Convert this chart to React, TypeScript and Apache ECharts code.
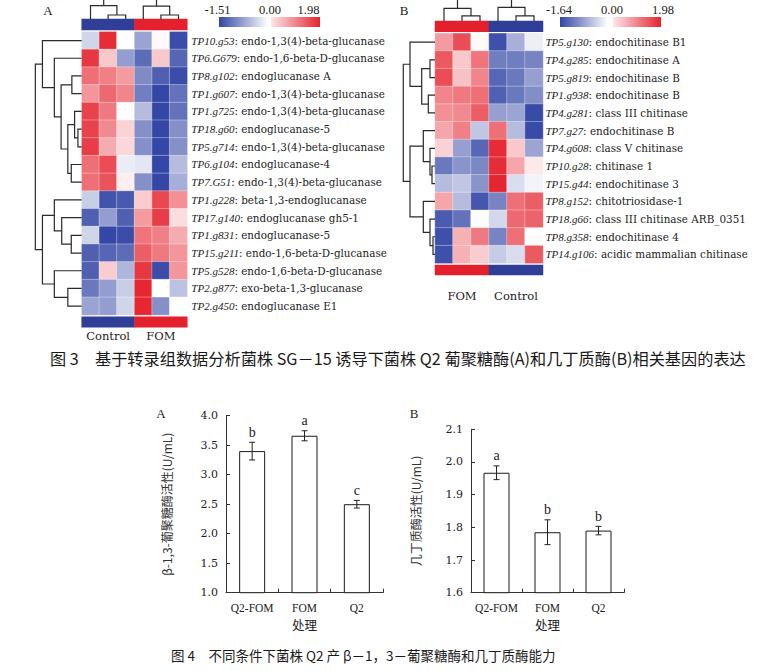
import React, { useEffect, useRef } from "react";
import * as echarts from "echarts";

// ---------------- Fig.3 A : glucanase genes ----------------
const glucGenes = ["TP10.g53", "TP6.G679", "TP8.g102", "TP1.g607", "TP1.g725", "TP18.g60", "TP5.g714", "TP6.g104", "TP7.G51", "TP1.g228", "TP17.g140", "TP1.g831", "TP15.g211", "TP5.g528", "TP2.g877", "TP2.g450"];
const glucDesc = ["endo-1,3(4)-beta-glucanase", "endo-1,6-beta-D-glucanase", "endoglucanase A", "endo-1,3(4)-beta-glucanase", "endo-1,3(4)-beta-glucanase", "endoglucanase-5", "endo-1,3(4)-beta-glucanase", "endoglucanase-4", "endo-1,3(4)-beta-glucanase", "beta-1,3-endoglucanase", "endoglucanase gh5-1", "endoglucanase-5", "endo-1,6-beta-D-glucanase", "endo-1,6-beta-D-glucanase", "exo-beta-1,3-glucanase", "endoglucanase E1"];
const glucColumns = ["Control-1", "Control-2", "Control-3", "FOM-1", "FOM-2", "FOM-3"];
const glucGroups = ["Control", "FOM"];
const glucMin = -1.51;
const glucMax = 1.98;
const glucExpr = [
  [-0.35, 1.9, 0.0, -0.75, 0.05, -1.45],
  [1.8, 0.5, -0.8, -1.2, 0.5, -1.25],
  [1.3, 1.15, 0.9, -0.95, -1.3, -1.45],
  [0.95, 1.35, 1.1, -1.05, -1.5, -1.15],
  [1.7, 1.2, 0.02, -0.55, -1.5, -1.15],
  [1.7, 1.05, 0.4, -0.9, -1.5, -0.9],
  [1.75, 0.75, 0.35, -0.9, -1.5, -0.9],
  [1.3, 1.6, -0.15, -0.2, -1.5, -0.55],
  [1.3, 1.55, 0.15, -0.9, -1.5, -0.65],
  [-0.4, -1.4, -1.35, 0.45, 1.65, 1.0],
  [-1.3, -0.8, -1.3, 0.9, 1.75, 0.3],
  [-0.35, -1.5, -1.45, 1.25, 1.15, 0.75],
  [-1.3, -1.25, -1.2, 1.45, 1.2, 0.95],
  [-1.3, 0.45, -0.6, 1.8, -1.45, 0.95],
  [-1.1, -0.8, -0.4, 1.95, 0.0, -0.5],
  [-0.75, -0.8, -0.35, 1.95, -0.9, 0.0],
];
// linkage: [childA, childB, height]; leaves 0..n-1, merged nodes n, n+1, ...
const glucRowLinkage = [
  [5, 6, 0.79], [4, 16, 1.49], [7, 8, 2.19], [17, 18, 2.91], [2, 3, 2.06], [20, 19, 4.32], [1, 21, 5.74], [0, 22, 8.23],
  [11, 12, 2.19], [10, 24, 4.19], [9, 25, 5.74], [14, 15, 2.91], [13, 27, 5.74], [26, 28, 8.23], [23, 29, 9.72],
];
const glucColLinkage = [[1, 2, 2.1], [0, 6, 7.0], [4, 5, 2.1], [3, 8, 6.8], [7, 9, 13]];

// ---------------- Fig.3 B : chitinase genes ----------------
const chitGenes = ["TP5.g130", "TP4.g285", "TP5.g819", "TP1.g938", "TP4.g281", "TP7.g27", "TP4.g608", "TP10.g28", "TP15.g44", "TP8.g152", "TP18.g66", "TP8.g358", "TP14.g106"];
const chitDesc = ["endochitinase B1", "endochitinase A", "endochitinase B", "endochitinase B", "class III chitinase", "endochitinase B", "class V chitinase", "chitinase 1", "endochitinase 3", "chitotriosidase-1", "class III chitinase ARB_0351", "endochitinase 4", "acidic mammalian chitinase"];
const chitColumns = ["FOM-1", "FOM-2", "FOM-3", "Control-1", "Control-2", "Control-3"];
const chitGroups = ["FOM", "Control"];
const chitMin = -1.64;
const chitMax = 1.98;
const chitExpr = [
  [0.9, 1.6, 0.05, -1.55, -0.7, -0.15],
  [1.5, 0.5, 1.25, -1.15, -1.15, -1.1],
  [1.6, 0.55, 1.1, -1.35, -1.2, -0.85],
  [1.1, 1.2, 1.3, -1.4, -1.2, -1.0],
  [1.0, 1.05, 1.45, -0.85, -0.8, -1.6],
  [0.8, 1.15, -0.5, 1.3, -0.6, -1.6],
  [0.4, -0.85, -1.35, 1.9, 0.5, -0.8],
  [-1.2, -0.95, -1.05, 1.9, 0.8, 0.2],
  [-0.6, -0.5, -0.95, 1.95, -0.3, -0.1],
  [0.8, -0.6, -1.5, -1.1, 1.3, 1.45],
  [-1.45, -1.25, 0.0, -0.35, 1.35, 1.4],
  [-1.55, 0.7, 1.2, -1.1, 1.3, 0.0],
  [-1.55, 0.7, 0.45, -0.45, -0.3, 1.5],
];
const chitRowLinkage = [
  [1, 2, 1.43], [3, 4, 1.91], [13, 14, 3.8], [0, 15, 7.14], [7, 8, 0.86], [6, 17, 1.43], [5, 18, 3.34],
  [11, 12, 0.57], [10, 20, 1.43], [9, 21, 3.34], [19, 22, 7.14], [16, 23, 9.06],
];
const chitColLinkage = [[1, 2, 2.4], [0, 6, 6.0], [4, 5, 2.4], [3, 8, 6.5], [7, 9, 14]];

// ---------------- Fig.4 : enzyme activities ----------------
const treatments = ["Q2-FOM", "FOM", "Q2"];
const glucanaseActivity = [3.4, 3.66, 2.5];
const glucanaseSD = [0.15, 0.085, 0.065];
const glucanaseSig = ["b", "a", "c"];
const glucanaseTicks = { min: 1.0, max: 4.0, interval: 0.5 };
const chitinaseActivity = [1.967, 1.785, 1.79];
const chitinaseSD = [0.021, 0.038, 0.013];
const chitinaseSig = ["a", "b", "b"];
const chitinaseTicks = { min: 1.6, max: 2.1, interval: 0.1 };

const caption3 = "图 3　基于转录组数据分析菌株 SG－15 诱导下菌株 Q2 葡聚糖酶(A)和几丁质酶(B)相关基因的表达";
const caption4 = "图 4　不同条件下菌株 Q2 产 β－1，3－葡聚糖酶和几丁质酶能力";

// ---------------- styling ----------------
const BLUE = [51, 70, 165];
const RED = [229, 35, 46];
const WHITE = [255, 255, 255];
const BAR_BLUE = "#2f3f98";
const BAR_RED = "#e3202b";
const INK = "#222";
const SERIF = "Liberation Serif";

function mix(a: number[], b: number[], t: number) {
  const c = a.map((v, i) => Math.round(v + (b[i] - v) * t));
  return `rgb(${c[0]},${c[1]},${c[2]})`;
}
function divergingColors(min: number, max: number, n = 61) {
  const out: string[] = [];
  for (let k = 0; k < n; k++) {
    const v = min + ((max - min) * k) / (n - 1);
    out.push(v < 0 ? mix(WHITE, BLUE, v / min) : mix(WHITE, RED, v / max));
  }
  return out;
}

function linkageSegments(link: number[][], n: number) {
  const pos: number[] = [];
  const ht: number[] = [];
  for (let i = 0; i < n; i++) { pos[i] = i; ht[i] = 0; }
  return link.map(([a, b, h], k) => {
    pos[n + k] = (pos[a] + pos[b]) / 2;
    ht[n + k] = h;
    return [pos[a], ht[a], pos[b], ht[b], h];
  });
}

function dendroSeries(link: number[][], n: number, axisIdx: number, orient: "row" | "col") {
  return {
    type: "custom",
    coordinateSystem: "cartesian2d",
    xAxisIndex: axisIdx,
    yAxisIndex: axisIdx,
    silent: true,
    data: linkageSegments(link, n),
    renderItem: (_p: any, api: any) => {
      const p1 = api.value(0), h1 = api.value(1), p2 = api.value(2), h2 = api.value(3), h = api.value(4);
      const c = (hh: number, pp: number) => (orient === "row" ? api.coord([hh, pp]) : api.coord([pp, hh]));
      return {
        type: "polyline",
        shape: { points: [c(h1, p1), c(h, p1), c(h, p2), c(h2, p2)] },
        style: { stroke: "#2a2a2a", lineWidth: 1.2, fill: "none" },
      };
    },
  };
}

function errorSeries(axisIdx: number, means: number[], sds: number[], sig: string[]) {
  return {
    type: "custom",
    xAxisIndex: axisIdx,
    yAxisIndex: axisIdx,
    silent: true,
    z: 5,
    data: means.map((m, i) => [i, m, sds[i]]),
    renderItem: (params: any, api: any) => {
      const i = api.value(0), m = api.value(1), e = api.value(2);
      const top = api.coord([i, m + e]);
      const bot = api.coord([i, m - e]);
      const cap = 3;
      const ls = { stroke: INK, lineWidth: 1 };
      return {
        type: "group",
        children: [
          { type: "line", shape: { x1: top[0], y1: top[1], x2: bot[0], y2: bot[1] }, style: ls },
          { type: "line", shape: { x1: top[0] - cap, y1: top[1], x2: top[0] + cap, y2: top[1] }, style: ls },
          { type: "line", shape: { x1: bot[0] - cap, y1: bot[1], x2: bot[0] + cap, y2: bot[1] }, style: ls },
          {
            type: "text", x: top[0], y: top[1] - 10,
            style: { text: sig[params.dataIndex], align: "center", verticalAlign: "middle", fontFamily: SERIF, fontSize: 14, fill: INK },
          },
        ],
      };
    },
  };
}

const hidden = { show: false };

function heatAxes(gridIdx: number, columns: string[], genes: string[], desc: string[], labelMargin: number) {
  return {
    x: { type: "category", gridIndex: gridIdx, data: columns, show: false },
    y: {
      type: "category", gridIndex: gridIdx, data: genes, inverse: true, position: "right",
      axisLine: hidden, axisTick: hidden,
      axisLabel: {
        margin: labelMargin,
        interval: 0,
        formatter: (v: string, idx: number) => `{i|${v}}{n|: ${desc[idx]}}`,
        rich: {
          i: { fontFamily: SERIF, fontStyle: "italic", fontSize: 11, color: INK },
          n: { fontFamily: "DejaVu Serif", fontSize: 10.4, color: INK },
        },
      },
    },
  };
}

function groupAxes(gridIdx: number, groups: string[], showLabel: boolean, margin: number) {
  return {
    x: {
      type: "category", gridIndex: gridIdx, data: groups, position: "bottom",
      axisLine: hidden, axisTick: hidden,
      axisLabel: showLabel ? { interval: 0, margin, fontFamily: "DejaVu Serif", fontSize: 11.5, color: INK } : hidden,
    },
    y: { type: "category", gridIndex: gridIdx, data: ["group"], show: false },
  };
}

function valueAxes(gridIdx: number, xmin: number, xmax: number, xinv: boolean, ymin: number, ymax: number, yinv: boolean) {
  return {
    x: { type: "value", gridIndex: gridIdx, min: xmin, max: xmax, inverse: xinv, show: false },
    y: { type: "value", gridIndex: gridIdx, min: ymin, max: ymax, inverse: yinv, show: false },
  };
}

function barAxes(gridIdx: number, ticks: { min: number; max: number; interval: number }, yName: string, nameGap: number) {
  const axisLine = { show: true, lineStyle: { color: "#333", width: 1 } };
  return {
    x: {
      type: "category", gridIndex: gridIdx, data: treatments,
      axisLine, axisTick: { show: true, inside: true, length: 4, lineStyle: { color: "#333" } },
      axisLabel: { interval: 0, fontFamily: SERIF, fontSize: 11.5, color: INK, margin: 9 },
      name: "处理", nameLocation: "middle", nameGap: 26,
      nameTextStyle: { fontFamily: "Noto Sans CJK SC", fontSize: 12.5, color: INK },
    },
    y: {
      type: "value", gridIndex: gridIdx, min: ticks.min, max: ticks.max, interval: ticks.interval,
      axisLine, axisTick: { show: true, inside: true, length: 4, lineStyle: { color: "#333" } },
      splitLine: hidden,
      axisLabel: { fontFamily: "DejaVu Serif", fontSize: 11, color: INK, margin: 8, formatter: (v: number) => v.toFixed(1) },
      name: yName, nameLocation: "middle", nameGap,
      nameTextStyle: { fontFamily: "Noto Sans CJK SC", fontSize: 12, color: "#333" },
    },
  };
}

function heatData(m: number[][]) {
  const out: number[][] = [];
  m.forEach((row, r) => row.forEach((v, c) => out.push([c, r, v])));
  return out;
}
function groupData(groups: string[]) {
  return groups.map((g, i) => [i, 0, g === "FOM" ? 1 : 0]);
}

function legendGraphics(x0: number, x1: number, blueEnd: number, redStart: number, min: number, max: number, minCx: number, zeroCx: number, maxCx: number) {
  const textStyle = (t: string) => ({ text: t, align: "center", verticalAlign: "middle", fontFamily: SERIF, fontSize: 12.5, fill: INK });
  return [
    {
      type: "rect", shape: { x: x0, y: 17, width: blueEnd - x0, height: 10 },
      style: { fill: new echarts.graphic.LinearGradient(0, 0, 1, 0, [{ offset: 0, color: mix(BLUE, BLUE, 0) }, { offset: 1, color: "#ffffff" }]) },
    },
    {
      type: "rect", shape: { x: redStart, y: 17, width: x1 - redStart, height: 10 },
      style: { fill: new echarts.graphic.LinearGradient(0, 0, 1, 0, [{ offset: 0, color: "#fde6ea" }, { offset: 1, color: mix(RED, RED, 0) }]) },
    },
    { type: "text", x: minCx, y: 9.5, style: textStyle(min.toFixed(2)) },
    { type: "text", x: zeroCx, y: 9.5, style: textStyle((0).toFixed(2)) },
    { type: "text", x: maxCx, y: 9.5, style: textStyle(max.toFixed(2)) },
  ];
}

export default function App() {
  const ref = useRef<HTMLDivElement>(null);
  useEffect(() => {
    if (!ref.current) return;
    const chart = echarts.init(ref.current, undefined, { renderer: "svg" });

    const grids = [
      { left: 81.7, top: 31.7, width: 105.6, height: 283.3 }, // 0 A heat
      { left: 81.7, top: 19, width: 105.6, height: 11 }, // 1 A top bar
      { left: 81.7, top: 316.7, width: 105.6, height: 10.6 }, // 2 A bottom bar
      { left: 34, top: 31.7, width: 47.7, height: 283.3 }, // 3 A row dendro
      { left: 81.7, top: 0, width: 105.6, height: 19 }, // 4 A col dendro
      { left: 435, top: 33.3, width: 108, height: 230 }, // 5 B heat
      { left: 435, top: 21, width: 108, height: 10.7 }, // 6 B top bar
      { left: 435, top: 265, width: 108, height: 10 }, // 7 B bottom bar
      { left: 400, top: 33.3, width: 35, height: 230 }, // 8 B row dendro
      { left: 435, top: 0, width: 108, height: 21 }, // 9 B col dendro
      { left: 226, top: 415.7, width: 157, height: 177 }, // 10 bar A
      { left: 471, top: 429.3, width: 153, height: 163.4 }, // 11 bar B
    ].map((g) => ({ ...g, containLabel: false, outerBoundsMode: "none" }));

    const axes = [
      heatAxes(0, glucColumns, glucGenes, glucDesc, 4),
      groupAxes(1, glucGroups, false, 0),
      groupAxes(2, glucGroups, true, 3),
      valueAxes(3, 0, 10, true, -0.5, glucGenes.length - 0.5, true),
      valueAxes(4, -0.5, glucColumns.length - 0.5, false, 0, 10, false),
      heatAxes(5, chitColumns, chitGenes, chitDesc, 2.5),
      groupAxes(6, chitGroups, false, 0),
      groupAxes(7, chitGroups, true, 15),
      valueAxes(8, 0, 10, true, -0.5, chitGenes.length - 0.5, true),
      valueAxes(9, -0.5, chitColumns.length - 0.5, false, 0, 10, false),
      barAxes(10, glucanaseTicks, "β-1,3-葡聚糖酶活性(U/mL)", 54),
      barAxes(11, chitinaseTicks, "几丁质酶活性(U/mL)", 50),
    ];

    const heatStyle = { borderColor: "rgba(255,255,255,0.55)", borderWidth: 0.6 };
    const series: any[] = [
      { type: "heatmap", xAxisIndex: 0, yAxisIndex: 0, data: heatData(glucExpr), itemStyle: heatStyle, silent: true }, // 0
      { type: "heatmap", xAxisIndex: 1, yAxisIndex: 1, data: groupData(glucGroups), silent: true }, // 1
      { type: "heatmap", xAxisIndex: 2, yAxisIndex: 2, data: groupData(glucGroups), silent: true }, // 2
      dendroSeries(glucRowLinkage, glucGenes.length, 3, "row"), // 3
      dendroSeries(glucColLinkage, glucColumns.length, 4, "col"), // 4
      { type: "heatmap", xAxisIndex: 5, yAxisIndex: 5, data: heatData(chitExpr), itemStyle: heatStyle, silent: true }, // 5
      { type: "heatmap", xAxisIndex: 6, yAxisIndex: 6, data: groupData(chitGroups), silent: true }, // 6
      { type: "heatmap", xAxisIndex: 7, yAxisIndex: 7, data: groupData(chitGroups), silent: true }, // 7
      dendroSeries(chitRowLinkage, chitGenes.length, 8, "row"), // 8
      dendroSeries(chitColLinkage, chitColumns.length, 9, "col"), // 9
      {
        type: "bar", xAxisIndex: 10, yAxisIndex: 10, data: glucanaseActivity, barWidth: 26, silent: true,
        itemStyle: { color: "#fff", borderColor: "#1a1a1a", borderWidth: 1 },
      }, // 10
      errorSeries(10, glucanaseActivity, glucanaseSD, glucanaseSig), // 11
      {
        type: "bar", xAxisIndex: 11, yAxisIndex: 11, data: chitinaseActivity, barWidth: 26, silent: true,
        itemStyle: { color: "#fff", borderColor: "#1a1a1a", borderWidth: 1 },
      }, // 12
      errorSeries(11, chitinaseActivity, chitinaseSD, chitinaseSig), // 13
    ];

    const panelText = (t: string, x: number, y: number) => ({
      type: "text", x, y, style: { text: t, align: "center", verticalAlign: "middle", fontFamily: SERIF, fontSize: 13, fill: INK },
    });

    const option: any = {
      animation: false,
      backgroundColor: "#fff",
      grid: grids,
      xAxis: axes.map((a) => a.x),
      yAxis: axes.map((a) => a.y),
      visualMap: [
        { type: "continuous", show: false, seriesIndex: 0, dimension: 2, min: glucMin, max: glucMax, inRange: { color: divergingColors(glucMin, glucMax) } },
        { type: "continuous", show: false, seriesIndex: 5, dimension: 2, min: chitMin, max: chitMax, inRange: { color: divergingColors(chitMin, chitMax) } },
        { type: "piecewise", show: false, seriesIndex: [1, 2, 6, 7], dimension: 2, pieces: [{ value: 0, color: BAR_BLUE }, { value: 1, color: BAR_RED }] },
      ],
      series,
      graphic: [
        panelText("A", 48, 10),
        panelText("B", 404, 10),
        ...legendGraphics(219, 320, 268, 271, glucMin, glucMax, 217.5, 270, 308.5),
        ...legendGraphics(560, 661, 608, 613, chitMin, chitMax, 559, 612, 663),
        panelText("A", 161, 413),
        panelText("B", 414, 413),
        {
          type: "text", x: 50, y: 358,
          style: { text: caption3, align: "left", verticalAlign: "middle", fontFamily: "Noto Sans CJK SC", fontSize: 16.2, fill: "#1a1a1a" },
        },
        {
          type: "text", x: 171, y: 655,
          style: { text: caption4, align: "left", verticalAlign: "middle", fontFamily: "Noto Sans CJK SC", fontSize: 13.5, fill: "#1a1a1a" },
        },
      ],
    };
    chart.setOption(option);
    return () => chart.dispose();
  }, []);
  return <div ref={ref} style={{ position: "absolute", left: 0, top: 0, width: 770, height: 671, background: "#fff" }} />;
}
